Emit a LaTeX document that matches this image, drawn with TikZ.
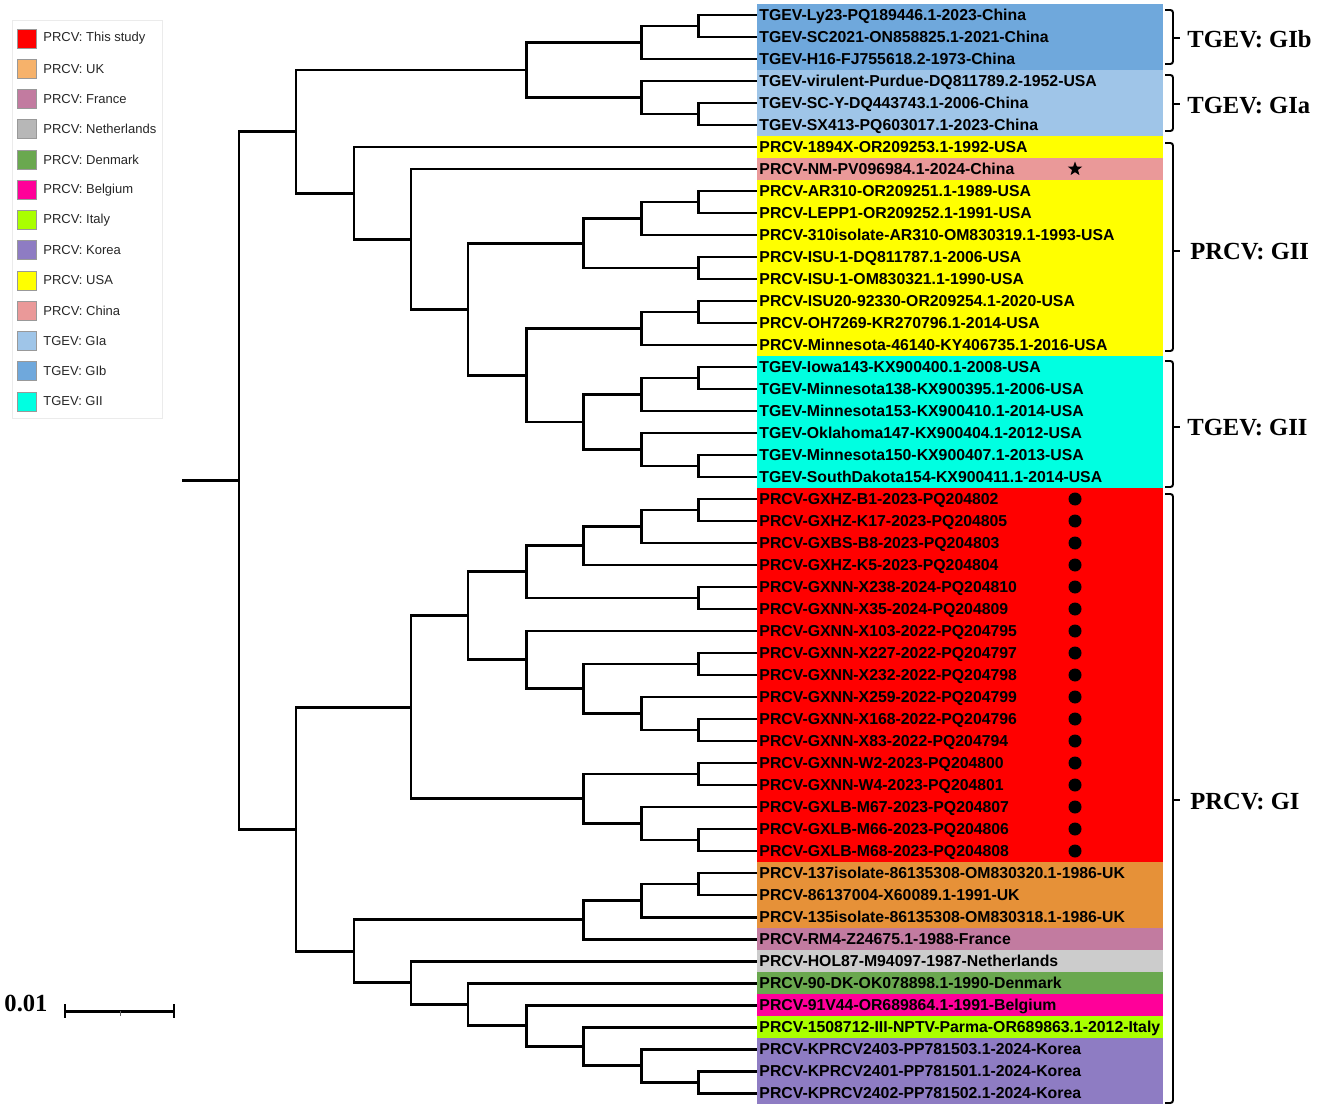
\documentclass[tikz,border=0pt]{standalone}
\usepackage{fontspec}
\usepackage{tikz}
\usetikzlibrary{shapes.geometric}
\setmainfont{Liberation Sans}
\newfontfamily\cladefont{Liberation Serif}
\definecolor{tgev_gib}{RGB}{111, 168, 220}
\definecolor{tgev_gia}{RGB}{159, 197, 232}
\definecolor{tgev_gii}{RGB}{0, 255, 225}
\definecolor{prcv_study}{RGB}{255, 0, 0}
\definecolor{prcv_usa}{RGB}{255, 255, 0}
\definecolor{prcv_china}{RGB}{234, 153, 153}
\definecolor{prcv_uk}{RGB}{230, 145, 56}
\definecolor{prcv_uk_key}{RGB}{246, 178, 107}
\definecolor{prcv_france}{RGB}{194, 123, 160}
\definecolor{prcv_nl}{RGB}{204, 204, 204}
\definecolor{prcv_nl_key}{RGB}{183, 183, 183}
\definecolor{prcv_dk}{RGB}{106, 168, 79}
\definecolor{prcv_be}{RGB}{255, 0, 153}
\definecolor{prcv_it}{RGB}{170, 255, 0}
\definecolor{prcv_kr}{RGB}{142, 124, 195}
\tikzstyle{leaf}=[anchor=west, align=left, text width=228.6pt, inner xsep=1.2pt,
  inner ysep=0pt, minimum height=12.6pt, text height=8.5pt, text depth=2pt,
  font=\fontsize{9}{10}\selectfont\bfseries]
\tikzstyle{branch}=[line width=1.7pt]
\tikzstyle{dot}=[circle, fill=black, inner sep=0pt, minimum size=7.4pt]
\tikzstyle{starmark}=[star, star points=5, star point ratio=2.4, fill=black,
  inner sep=0pt, minimum size=8.5pt]
\tikzstyle{keybox}=[inner sep=0pt, minimum size=10.8pt, draw=black!40, line width=0.4pt]
\tikzstyle{keytext}=[anchor=west, inner sep=0pt, font=\fontsize{7.4}{9}\selectfont, text=black!85]
\tikzstyle{clade}=[anchor=west, inner sep=0pt, font=\cladefont\fontsize{14}{16}\selectfont\bfseries]
\tikzstyle{brace}=[line width=1.1pt, rounded corners=1.5pt]
\tikzstyle{none}=[]

\begin{document}
\begin{tikzpicture}[x=0.02cm, y=-0.02cm]
    \useasboundingbox (0,0) rectangle (1325,1111);
    % legend
    \draw [draw=black!8, line width=0.5pt] (12,20) rectangle (162,418);
    \node [style=keybox, fill=prcv_study] (100) at (26.5,38.5) {};
    \node [style=keytext] (101) at (43,38.5) {PRCV: This study};
    \node [style=keybox, fill=prcv_uk_key] (102) at (26.5,68.75) {};
    \node [style=keytext] (103) at (43,68.75) {PRCV: UK};
    \node [style=keybox, fill=prcv_france] (104) at (26.5,99) {};
    \node [style=keytext] (105) at (43,99) {PRCV: France};
    \node [style=keybox, fill=prcv_nl_key] (106) at (26.5,129.25) {};
    \node [style=keytext] (107) at (43,129.25) {PRCV: Netherlands};
    \node [style=keybox, fill=prcv_dk] (108) at (26.5,159.5) {};
    \node [style=keytext] (109) at (43,159.5) {PRCV: Denmark};
    \node [style=keybox, fill=prcv_be] (110) at (26.5,189.75) {};
    \node [style=keytext] (111) at (43,189.75) {PRCV: Belgium};
    \node [style=keybox, fill=prcv_it] (112) at (26.5,220) {};
    \node [style=keytext] (113) at (43,220) {PRCV: Italy};
    \node [style=keybox, fill=prcv_kr] (114) at (26.5,250.25) {};
    \node [style=keytext] (115) at (43,250.25) {PRCV: Korea};
    \node [style=keybox, fill=prcv_usa] (116) at (26.5,280.5) {};
    \node [style=keytext] (117) at (43,280.5) {PRCV: USA};
    \node [style=keybox, fill=prcv_china] (118) at (26.5,310.75) {};
    \node [style=keytext] (119) at (43,310.75) {PRCV: China};
    \node [style=keybox, fill=tgev_gia] (120) at (26.5,341) {};
    \node [style=keytext] (121) at (43,341) {TGEV: GIa};
    \node [style=keybox, fill=tgev_gib] (122) at (26.5,371.25) {};
    \node [style=keytext] (123) at (43,371.25) {TGEV: GIb};
    \node [style=keybox, fill=tgev_gii] (124) at (26.5,401.5) {};
    \node [style=keytext] (125) at (43,401.5) {TGEV: GII};

    % tips
    \node [style=leaf, fill=tgev_gib] (0) at (757,15) {TGEV-Ly23-PQ189446.1-2023-China};
    \node [style=leaf, fill=tgev_gib] (1) at (757,37) {TGEV-SC2021-ON858825.1-2021-China};
    \node [style=leaf, fill=tgev_gib] (2) at (757,59) {TGEV-H16-FJ755618.2-1973-China};
    \node [style=leaf, fill=tgev_gia] (3) at (757,81) {TGEV-virulent-Purdue-DQ811789.2-1952-USA};
    \node [style=leaf, fill=tgev_gia] (4) at (757,103) {TGEV-SC-Y-DQ443743.1-2006-China};
    \node [style=leaf, fill=tgev_gia] (5) at (757,125) {TGEV-SX413-PQ603017.1-2023-China};
    \node [style=leaf, fill=prcv_usa] (6) at (757,147) {PRCV-1894X-OR209253.1-1992-USA};
    \node [style=leaf, fill=prcv_china] (7) at (757,169) {PRCV-NM-PV096984.1-2024-China};
    \node [style=leaf, fill=prcv_usa] (8) at (757,191) {PRCV-AR310-OR209251.1-1989-USA};
    \node [style=leaf, fill=prcv_usa] (9) at (757,213) {PRCV-LEPP1-OR209252.1-1991-USA};
    \node [style=leaf, fill=prcv_usa] (10) at (757,235) {PRCV-310isolate-AR310-OM830319.1-1993-USA};
    \node [style=leaf, fill=prcv_usa] (11) at (757,257) {PRCV-ISU-1-DQ811787.1-2006-USA};
    \node [style=leaf, fill=prcv_usa] (12) at (757,279) {PRCV-ISU-1-OM830321.1-1990-USA};
    \node [style=leaf, fill=prcv_usa] (13) at (757,301) {PRCV-ISU20-92330-OR209254.1-2020-USA};
    \node [style=leaf, fill=prcv_usa] (14) at (757,323) {PRCV-OH7269-KR270796.1-2014-USA};
    \node [style=leaf, fill=prcv_usa] (15) at (757,345) {PRCV-Minnesota-46140-KY406735.1-2016-USA};
    \node [style=leaf, fill=tgev_gii] (16) at (757,367) {TGEV-Iowa143-KX900400.1-2008-USA};
    \node [style=leaf, fill=tgev_gii] (17) at (757,389) {TGEV-Minnesota138-KX900395.1-2006-USA};
    \node [style=leaf, fill=tgev_gii] (18) at (757,411) {TGEV-Minnesota153-KX900410.1-2014-USA};
    \node [style=leaf, fill=tgev_gii] (19) at (757,433) {TGEV-Oklahoma147-KX900404.1-2012-USA};
    \node [style=leaf, fill=tgev_gii] (20) at (757,455) {TGEV-Minnesota150-KX900407.1-2013-USA};
    \node [style=leaf, fill=tgev_gii] (21) at (757,477) {TGEV-SouthDakota154-KX900411.1-2014-USA};
    \node [style=leaf, fill=prcv_study] (22) at (757,499) {PRCV-GXHZ-B1-2023-PQ204802};
    \node [style=leaf, fill=prcv_study] (23) at (757,521) {PRCV-GXHZ-K17-2023-PQ204805};
    \node [style=leaf, fill=prcv_study] (24) at (757,543) {PRCV-GXBS-B8-2023-PQ204803};
    \node [style=leaf, fill=prcv_study] (25) at (757,565) {PRCV-GXHZ-K5-2023-PQ204804};
    \node [style=leaf, fill=prcv_study] (26) at (757,587) {PRCV-GXNN-X238-2024-PQ204810};
    \node [style=leaf, fill=prcv_study] (27) at (757,609) {PRCV-GXNN-X35-2024-PQ204809};
    \node [style=leaf, fill=prcv_study] (28) at (757,631) {PRCV-GXNN-X103-2022-PQ204795};
    \node [style=leaf, fill=prcv_study] (29) at (757,653) {PRCV-GXNN-X227-2022-PQ204797};
    \node [style=leaf, fill=prcv_study] (30) at (757,675) {PRCV-GXNN-X232-2022-PQ204798};
    \node [style=leaf, fill=prcv_study] (31) at (757,697) {PRCV-GXNN-X259-2022-PQ204799};
    \node [style=leaf, fill=prcv_study] (32) at (757,719) {PRCV-GXNN-X168-2022-PQ204796};
    \node [style=leaf, fill=prcv_study] (33) at (757,741) {PRCV-GXNN-X83-2022-PQ204794};
    \node [style=leaf, fill=prcv_study] (34) at (757,763) {PRCV-GXNN-W2-2023-PQ204800};
    \node [style=leaf, fill=prcv_study] (35) at (757,785) {PRCV-GXNN-W4-2023-PQ204801};
    \node [style=leaf, fill=prcv_study] (36) at (757,807) {PRCV-GXLB-M67-2023-PQ204807};
    \node [style=leaf, fill=prcv_study] (37) at (757,829) {PRCV-GXLB-M66-2023-PQ204806};
    \node [style=leaf, fill=prcv_study] (38) at (757,851) {PRCV-GXLB-M68-2023-PQ204808};
    \node [style=leaf, fill=prcv_uk] (39) at (757,873) {PRCV-137isolate-86135308-OM830320.1-1986-UK};
    \node [style=leaf, fill=prcv_uk] (40) at (757,895) {PRCV-86137004-X60089.1-1991-UK};
    \node [style=leaf, fill=prcv_uk] (41) at (757,917) {PRCV-135isolate-86135308-OM830318.1-1986-UK};
    \node [style=leaf, fill=prcv_france] (42) at (757,939) {PRCV-RM4-Z24675.1-1988-France};
    \node [style=leaf, fill=prcv_nl] (43) at (757,961) {PRCV-HOL87-M94097-1987-Netherlands};
    \node [style=leaf, fill=prcv_dk] (44) at (757,983) {PRCV-90-DK-OK078898.1-1990-Denmark};
    \node [style=leaf, fill=prcv_be] (45) at (757,1005) {PRCV-91V44-OR689864.1-1991-Belgium};
    \node [style=leaf, fill=prcv_it] (46) at (757,1027) {PRCV-1508712-III-NPTV-Parma-OR689863.1-2012-Italy};
    \node [style=leaf, fill=prcv_kr] (47) at (757,1049) {PRCV-KPRCV2403-PP781503.1-2024-Korea};
    \node [style=leaf, fill=prcv_kr] (48) at (757,1071) {PRCV-KPRCV2401-PP781501.1-2024-Korea};
    \node [style=leaf, fill=prcv_kr] (49) at (757,1093) {PRCV-KPRCV2402-PP781502.1-2024-Korea};

    % inner nodes
    \coordinate (50) at (698,26);
    \coordinate (51) at (641,42.5);
    \coordinate (52) at (698,114);
    \coordinate (53) at (641,97.5);
    \coordinate (54) at (526,70);
    \coordinate (55) at (698,202);
    \coordinate (56) at (641,218.5);
    \coordinate (57) at (698,268);
    \coordinate (58) at (583,243.25);
    \coordinate (59) at (698,312);
    \coordinate (60) at (641,328.5);
    \coordinate (61) at (698,378);
    \coordinate (62) at (641,394.5);
    \coordinate (63) at (698,466);
    \coordinate (64) at (641,449.5);
    \coordinate (65) at (583,422);
    \coordinate (66) at (526,375.25);
    \coordinate (67) at (468,309.25);
    \coordinate (68) at (411,239.1);
    \coordinate (69) at (354,193.1);
    \coordinate (70) at (296,131.5);
    \coordinate (71) at (698,510);
    \coordinate (72) at (641,526.5);
    \coordinate (73) at (583,545.75);
    \coordinate (74) at (698,598);
    \coordinate (75) at (526,571.9);
    \coordinate (76) at (698,664);
    \coordinate (77) at (698,730);
    \coordinate (78) at (641,713.5);
    \coordinate (79) at (583,688.75);
    \coordinate (80) at (526,659.9);
    \coordinate (81) at (468,615.9);
    \coordinate (82) at (698,774);
    \coordinate (83) at (698,840);
    \coordinate (84) at (641,823.5);
    \coordinate (85) at (583,798.75);
    \coordinate (86) at (411,707.3);
    \coordinate (87) at (698,884);
    \coordinate (88) at (641,900.5);
    \coordinate (89) at (583,919.75);
    \coordinate (90) at (698,1082);
    \coordinate (91) at (641,1065.5);
    \coordinate (92) at (583,1046.25);
    \coordinate (93) at (526,1025.6);
    \coordinate (94) at (468,1004.3);
    \coordinate (95) at (411,982.7);
    \coordinate (96) at (354,951.2);
    \coordinate (97) at (296,829.3);
    \coordinate (98) at (239,480.4);
    \coordinate (99) at (182,480.4);

    % branches
    \draw [style=branch] (50) |- (0);  \draw [style=branch] (50) |- (1);
    \draw [style=branch] (51) |- (50); \draw [style=branch] (51) |- (2);
    \draw [style=branch] (52) |- (4);  \draw [style=branch] (52) |- (5);
    \draw [style=branch] (53) |- (3);  \draw [style=branch] (53) |- (52);
    \draw [style=branch] (54) |- (51); \draw [style=branch] (54) |- (53);
    \draw [style=branch] (55) |- (8);  \draw [style=branch] (55) |- (9);
    \draw [style=branch] (56) |- (55); \draw [style=branch] (56) |- (10);
    \draw [style=branch] (57) |- (11); \draw [style=branch] (57) |- (12);
    \draw [style=branch] (58) |- (56); \draw [style=branch] (58) |- (57);
    \draw [style=branch] (59) |- (13); \draw [style=branch] (59) |- (14);
    \draw [style=branch] (60) |- (59); \draw [style=branch] (60) |- (15);
    \draw [style=branch] (61) |- (16); \draw [style=branch] (61) |- (17);
    \draw [style=branch] (62) |- (61); \draw [style=branch] (62) |- (18);
    \draw [style=branch] (63) |- (20); \draw [style=branch] (63) |- (21);
    \draw [style=branch] (64) |- (19); \draw [style=branch] (64) |- (63);
    \draw [style=branch] (65) |- (62); \draw [style=branch] (65) |- (64);
    \draw [style=branch] (66) |- (60); \draw [style=branch] (66) |- (65);
    \draw [style=branch] (67) |- (58); \draw [style=branch] (67) |- (66);
    \draw [style=branch] (68) |- (7);  \draw [style=branch] (68) |- (67);
    \draw [style=branch] (69) |- (6);  \draw [style=branch] (69) |- (68);
    \draw [style=branch] (70) |- (54); \draw [style=branch] (70) |- (69);
    \draw [style=branch] (71) |- (22); \draw [style=branch] (71) |- (23);
    \draw [style=branch] (72) |- (71); \draw [style=branch] (72) |- (24);
    \draw [style=branch] (73) |- (72); \draw [style=branch] (73) |- (25);
    \draw [style=branch] (74) |- (26); \draw [style=branch] (74) |- (27);
    \draw [style=branch] (75) |- (73); \draw [style=branch] (75) |- (74);
    \draw [style=branch] (76) |- (29); \draw [style=branch] (76) |- (30);
    \draw [style=branch] (77) |- (32); \draw [style=branch] (77) |- (33);
    \draw [style=branch] (78) |- (31); \draw [style=branch] (78) |- (77);
    \draw [style=branch] (79) |- (76); \draw [style=branch] (79) |- (78);
    \draw [style=branch] (80) |- (28); \draw [style=branch] (80) |- (79);
    \draw [style=branch] (81) |- (75); \draw [style=branch] (81) |- (80);
    \draw [style=branch] (82) |- (34); \draw [style=branch] (82) |- (35);
    \draw [style=branch] (83) |- (37); \draw [style=branch] (83) |- (38);
    \draw [style=branch] (84) |- (36); \draw [style=branch] (84) |- (83);
    \draw [style=branch] (85) |- (82); \draw [style=branch] (85) |- (84);
    \draw [style=branch] (86) |- (81); \draw [style=branch] (86) |- (85);
    \draw [style=branch] (87) |- (39); \draw [style=branch] (87) |- (40);
    \draw [style=branch] (88) |- (87); \draw [style=branch] (88) |- (41);
    \draw [style=branch] (89) |- (88); \draw [style=branch] (89) |- (42);
    \draw [style=branch] (90) |- (48); \draw [style=branch] (90) |- (49);
    \draw [style=branch] (91) |- (47); \draw [style=branch] (91) |- (90);
    \draw [style=branch] (92) |- (46); \draw [style=branch] (92) |- (91);
    \draw [style=branch] (93) |- (45); \draw [style=branch] (93) |- (92);
    \draw [style=branch] (94) |- (44); \draw [style=branch] (94) |- (93);
    \draw [style=branch] (95) |- (43); \draw [style=branch] (95) |- (94);
    \draw [style=branch] (96) |- (89); \draw [style=branch] (96) |- (95);
    \draw [style=branch] (97) |- (86); \draw [style=branch] (97) |- (96);
    \draw [style=branch] (98) |- (70); \draw [style=branch] (98) |- (97);
    \draw [style=branch] (99) -- (98);

    % marks
    \node [style=starmark] (150) at (1075,169) {};
    \node [style=dot] (151) at (1075,499) {};
    \node [style=dot] (152) at (1075,521) {};
    \node [style=dot] (153) at (1075,543) {};
    \node [style=dot] (154) at (1075,565) {};
    \node [style=dot] (155) at (1075,587) {};
    \node [style=dot] (156) at (1075,609) {};
    \node [style=dot] (157) at (1075,631) {};
    \node [style=dot] (158) at (1075,653) {};
    \node [style=dot] (159) at (1075,675) {};
    \node [style=dot] (160) at (1075,697) {};
    \node [style=dot] (161) at (1075,719) {};
    \node [style=dot] (162) at (1075,741) {};
    \node [style=dot] (163) at (1075,763) {};
    \node [style=dot] (164) at (1075,785) {};
    \node [style=dot] (165) at (1075,807) {};
    \node [style=dot] (166) at (1075,829) {};
    \node [style=dot] (167) at (1075,851) {};

    % clades
    \draw [style=brace] (1165,10) -- (1173,10) -- (1173,64) -- (1165,64);
    \draw [style=brace] (1173,38) -- (1180,38);
    \node [style=clade] (130) at (1187,39) {TGEV: GIb};
    \draw [style=brace] (1165,75) -- (1173,75) -- (1173,131) -- (1165,131);
    \draw [style=brace] (1173,104) -- (1180,104);
    \node [style=clade] (131) at (1187,106) {TGEV: GIa};
    \draw [style=brace] (1165,143) -- (1173,143) -- (1173,351) -- (1165,351);
    \draw [style=brace] (1173,251) -- (1180,251);
    \node [style=clade] (132) at (1190,252) {PRCV: GII};
    \draw [style=brace] (1165,361) -- (1173,361) -- (1173,487) -- (1165,487);
    \draw [style=brace] (1173,427) -- (1180,427);
    \node [style=clade] (133) at (1187,428) {TGEV: GII};
    \draw [style=brace] (1165,494) -- (1173,494) -- (1173,1103) -- (1165,1103);
    \draw [style=brace] (1173,800) -- (1180,800);
    \node [style=clade] (134) at (1190,802) {PRCV: GI};

    % scale
    \node [style=clade, anchor=center] (200) at (26,1003) {0.01};
    \coordinate (201) at (65,1011);
    \coordinate (202) at (174,1011);
    \draw [line width=1.7pt] (201) -- (202);
    \draw [line width=0.9pt] (65,1004) -- (65,1018);
    \draw [line width=0.9pt] (174,1004) -- (174,1018);
    \draw [line width=0.5pt, black!60] (120,1011) -- (120,1016);
\end{tikzpicture}
\end{document}
